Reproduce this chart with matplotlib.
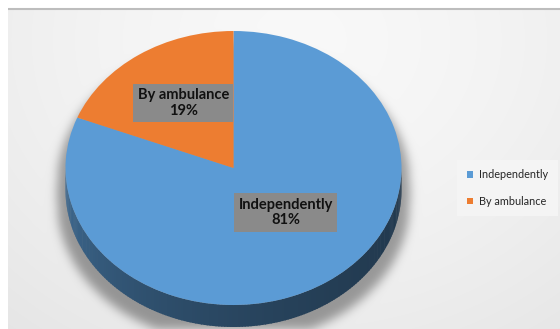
import numpy as np
import matplotlib
matplotlib.use("Agg")
import matplotlib.pyplot as plt
from matplotlib.patches import Polygon
from matplotlib.colors import to_rgb

# Data
categories = ["Independently", "By ambulance"]
shares = [81, 19]
colors = ["#5B9BD5", "#ED7D31"]

# Label placement along each slice's middle angle
LABEL_R = [0.45, 0.56]
LABEL_ANGLE_SHIFT = [9.5, -2.0]

W, H = 560, 329
CX, CY, RX, RY, DEPTH = 233.5, 168.0, 168.0, 137.0, 22.0
LEFT, TOP = 8, 9

fig = plt.figure(figsize=(W / 100, H / 100), dpi=100, facecolor="white")

# ---- background panel with soft gradient and drop shadow ----
bg = fig.add_axes([0, 0, 1, 1])
bg.set_xlim(0, W)
bg.set_ylim(H, 0)
bg.axis("off")

yy, xx = np.mgrid[0:H, 0:W] + 0.5
dist = np.hypot((xx - 300) / 1.2, yy - 40)
v = 0.975 - 0.075 * np.clip(dist / 380, 0, 1) ** 1.5

# shadow of the pie body (extruded ellipse), blurred
sx, sy, sh = RX + 8, RY + 2, 14
u = (xx - CX) / sx
inside = np.abs(u) <= 1
half = sy * np.sqrt(np.clip(1 - u ** 2, 0, 1))
mask = (inside & (yy >= CY + sh - half) & (yy <= CY + sh + DEPTH + half)).astype(float)
sig = 5.0
kx = np.arange(-18, 19)
k = np.exp(-0.5 * (kx / sig) ** 2)
k /= k.sum()
blur = np.array([np.convolve(r, k, mode="same") for r in mask])
blur = np.array([np.convolve(c, k, mode="same") for c in blur.T]).T
v = v - 0.34 * blur

v[(xx < LEFT) | (yy < TOP)] = 1.0
bg.imshow(np.dstack([v, v, v]), extent=(0, W, H, 0), origin="upper",
          interpolation="bilinear", aspect="auto")
bg.plot([LEFT, W], [TOP - 0.5, TOP - 0.5], color="#BDBDBD", lw=1.5,
        solid_capstyle="butt")

# ---- pie ----
ax = fig.add_axes([0, 0, 1, 1])
wedges, _ = ax.pie(shares, colors=colors, startangle=90, counterclock=False,
                   radius=1, center=(0, 0), wedgeprops=dict(linewidth=0))
ax.set_aspect("auto")
ax.set_xlim(-CX / RX, (W - CX) / RX)
ax.set_ylim(-(H - CY) / RY, CY / RY)
ax.axis("off")
ax.patch.set_visible(False)

# visible side wall of the disc (front half), shaded by angle
depth = DEPTH / RY
edges = np.linspace(180, 360, 181)
for a0, a1 in zip(edges[:-1], edges[1:]):
    mid = 0.5 * (a0 + a1)
    owner = wedges[0]
    for w in wedges:
        if (mid - w.theta1) % 360 <= (w.theta2 - w.theta1):
            owner = w
            break
    base = np.array(to_rgb(owner.get_facecolor()))
    f = 0.37 + 0.33 * ((360 - mid) / 180) ** 2
    c = tuple(np.clip(base * f, 0, 1))
    t = np.radians(np.linspace(a0 - 0.2, a1 + 0.2, 4))
    top = np.c_[np.cos(t), np.sin(t)]
    bottom = top - np.array([0, depth])
    ax.add_patch(Polygon(np.vstack([top, bottom[::-1]]), closed=True,
                         fc=c, ec="none", lw=0, zorder=0.5))

# data labels in grey boxes
for w, cat, val, r, da in zip(wedges, categories, shares, LABEL_R, LABEL_ANGLE_SHIFT):
    mid = np.radians(0.5 * (w.theta1 + w.theta2) + da)
    ax.text(r * np.cos(mid), r * np.sin(mid), f"{cat}\n{val}%",
            ha="center", va="center", multialignment="center",
            family="Lato", fontweight="bold", fontsize=10.5, color="#111111",
            linespacing=1.15, zorder=5,
            bbox=dict(boxstyle="square,pad=0.3", fc="#8A8A8A", ec="none"))

# legend
leg = ax.legend(wedges, categories, loc="center left",
                bbox_to_anchor=(452 / W, 1 - 188 / H),
                bbox_transform=fig.transFigure,
                prop=dict(family="Lato", size=7.8),
                handlelength=0.5, handleheight=0.5, handletextpad=0.6,
                labelspacing=1.4, borderpad=0.9, frameon=True,
                facecolor="#F4F4F4", edgecolor="none", framealpha=1,
                fancybox=False)
for t in leg.get_texts():
    t.set_color("#262626")

fig.savefig("out.png", dpi=100, facecolor="white")
